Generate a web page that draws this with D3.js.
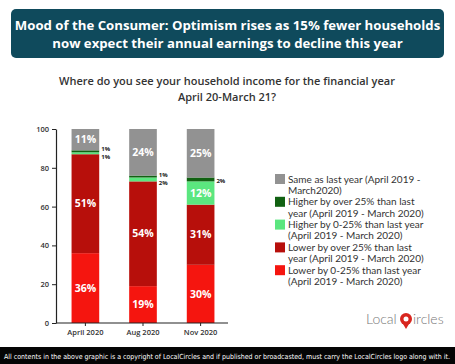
<!DOCTYPE html>
<html>
<head>
<meta charset="utf-8">
<script src="https://cdn.jsdelivr.net/npm/d3@7"></script>
<style>
  html, body { margin: 0; padding: 0; background: #fff; }
  svg { display: block; }
</style>
</head>
<body>
<div id="chart"></div>
<script>
// data
var periods = ["April 2020", "Aug 2020", "Nov 2020"];
var lowerUpTo25 = [36, 19, 30];
var lowerOver25 = [51, 54, 31];
var higherUpTo25 = [1, 2, 12];
var higherOver25 = [1, 1, 2];
var sameAsLast = [11, 24, 25];
var yTicks = [0, 20, 40, 60, 80, 100];

var seriesKeys = ["lo", "loBig", "hi", "hiBig", "same"];
var colors = ["#f5150f", "#b70f0b", "#5be67f", "#116112", "#929292"];

var W = 455, H = 364;
var svg = d3.select("#chart").append("svg").attr("width", W).attr("height", H);

// title banner
svg.append("rect").attr("x", 11).attr("y", 9).attr("width", 433).attr("height", 49)
    .attr("rx", 5).attr("fill", "#0f4a5c");
var titleLines = ["Mood of the Consumer: Optimism rises as 15% fewer households",
                  "now expect their annual earnings to decline this year"];
svg.selectAll("text.title").data(titleLines).enter().append("text")
    .attr("x", 227.5).attr("y", function(d, i) { return 30 + i * 18; })
    .attr("text-anchor", "middle")
    .attr("font-family", "'Open Sans', sans-serif").attr("font-weight", 700)
    .attr("font-size", 13.2).attr("fill", "#fff")
    .text(function(d) { return d; });

// subtitle
var subLines = ["Where do you see your household income for the financial year",
                "April 20-March 21?"];
svg.selectAll("text.sub").data(subLines).enter().append("text")
    .attr("x", 227).attr("y", function(d, i) { return 85 + i * 16; })
    .attr("text-anchor", "middle")
    .attr("font-family", "'Open Sans', sans-serif").attr("font-weight", 600)
    .attr("font-size", 11).attr("fill", "#333")
    .text(function(d) { return d; });

// build stacked table
var table = periods.map(function(p, i) {
    return { period: p, lo: lowerUpTo25[i], loBig: lowerOver25[i], hi: higherUpTo25[i],
             hiBig: higherOver25[i], same: sameAsLast[i] };
});
var stack = d3.stack().keys(seriesKeys)(table);

var x = d3.scaleBand().domain(periods).range([56, 230]).paddingInner(0.52).paddingOuter(0.27);
var y = d3.scaleLinear().domain([0, 100]).range([323, 129]);

var g = svg.append("g");
var layers = g.selectAll("g.layer").data(stack).enter().append("g")
    .attr("fill", function(d, i) { return colors[i]; });
layers.selectAll("rect").data(function(d) { return d; }).enter().append("rect")
    .attr("x", function(d) { return x(d.data.period); })
    .attr("width", x.bandwidth())
    .attr("y", function(d) { return y(d[1]); })
    .attr("height", function(d) { return y(d[0]) - y(d[1]); });

// axes
var yAxis = svg.append("g").attr("transform", "translate(56,0)")
    .call(d3.axisLeft(y).tickValues(yTicks).tickSize(4).tickSizeOuter(0));
var xAxis = svg.append("g").attr("transform", "translate(0,323)")
    .call(d3.axisBottom(x).tickSize(3).tickSizeOuter(0));
[yAxis, xAxis].forEach(function(a) {
    a.select(".domain").attr("stroke", "#222").attr("stroke-width", 1.2);
    a.selectAll(".tick line").attr("stroke", "#222");
    a.selectAll("text").attr("fill", "#333").attr("font-size", 7.5)
        .attr("font-family", "'Open Sans', sans-serif").attr("font-weight", 600);
});
xAxis.select(".domain").attr("d", "M56,0H228");
xAxis.selectAll("text").attr("dy", "0.85em");

// labels
stack.forEach(function(layer, si) {
    layer.forEach(function(d) {
        var v = d[1] - d[0];
        var cx = x(d.data.period) + x.bandwidth() / 2;
        var cy = y((d[0] + d[1]) / 2);
        if (v >= 10) {
            g.append("text").attr("x", cx).attr("y", cy).attr("dy", "0.35em")
                .attr("text-anchor", "middle").attr("fill", "#fff")
                .attr("font-family", "'Open Sans', sans-serif").attr("font-weight", 700)
                .attr("font-size", 10.5).text(v + "%");
        } else {
            var off = seriesKeys[si] === "hiBig" ? -2 : 3.5;
            if (seriesKeys[si] === "hiBig" && d.data.hi >= 10) off = 1;
            g.append("text").attr("x", x(d.data.period) + x.bandwidth() + 2).attr("y", cy + off)
                .attr("dy", "0.35em").attr("fill", "#222")
                .attr("font-family", "'Open Sans', sans-serif").attr("font-weight", 700)
                .attr("font-size", 6).text(v + "%");
        }
    });
});

// legend (top to bottom reverse of stack)
var legendLines = [
    ["Same as last year (April 2019 -", "March2020)"],
    ["Higher by over 25% than last", "year (April 2019 - March 2020)"],
    ["Higher by 0-25% than last year", "(April 2019 - March 2020)"],
    ["Lower by over 25% than last", "year (April 2019 - March 2020)"],
    ["Lower by 0-25% than last year", "(April 2019 - March 2020)"]
];
var legendColors = colors.slice().reverse();
var lg = svg.append("g").selectAll("g").data(legendLines).enter().append("g")
    .attr("transform", function(d, i) { return "translate(275," + (179 + i * 22.8) + ")"; });
lg.append("rect").attr("x", 0).attr("y", -5).attr("width", 10).attr("height", 10)
    .attr("fill", function(d, i) { return legendColors[i]; });
lg.each(function(d) {
    var t = d3.select(this);
    d.forEach(function(line, j) {
        t.append("text").attr("x", 13).attr("y", j * 11.3).attr("dy", "0.35em")
            .attr("font-family", "Lato, sans-serif").attr("font-size", 10)
            .attr("fill", "#333").text(line);
    });
});

// logo
var logo = svg.append("g").attr("transform", "translate(0,324)");
logo.append("text").attr("x", 366).attr("y", 0).attr("font-family", "Lato, sans-serif")
    .attr("font-weight", 300).attr("font-size", 14).attr("fill", "#777").text("Local");
logo.append("circle").attr("cx", 406).attr("cy", -5).attr("r", 6).attr("fill", "#d8261f");
logo.append("circle").attr("cx", 406).attr("cy", -5).attr("r", 2.5).attr("fill", "#fff");
logo.append("path").attr("d", "M403,0L406,5L409,0Z").attr("fill", "#d8261f");
logo.append("text").attr("x", 413).attr("y", 0).attr("font-family", "Lato, sans-serif")
    .attr("font-weight", 300).attr("font-size", 14).attr("fill", "#777").text("ircles");

// footer
svg.append("rect").attr("x", 0).attr("y", 347).attr("width", W).attr("height", 17).attr("fill", "#050505");
svg.append("text").attr("x", 4).attr("y", 358.5)
    .attr("font-family", "'Liberation Sans Narrow', 'DejaVu Sans Condensed', sans-serif")
    .attr("font-size", 7).attr("fill", "#fff")
    .attr("textLength", 446).attr("lengthAdjust", "spacingAndGlyphs")
    .text("All contents in the above graphic is a copyright of LocalCircles and if published or broadcasted, must carry the LocalCircles logo along with it.");
</script>
</body>
</html>
